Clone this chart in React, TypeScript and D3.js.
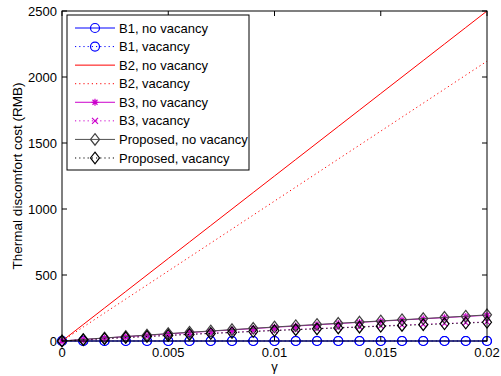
import React from "react";
import * as d3 from "d3";

const gammas = [0, 0.001, 0.002, 0.003, 0.004, 0.005, 0.006, 0.007, 0.008, 0.009, 0.01,
  0.011, 0.012, 0.013, 0.014, 0.015, 0.016, 0.017, 0.018, 0.019, 0.02];

const b1NoVacancy = [0, 0, 0, 0, 0, 0, 0, 0, 0, 0, 0, 0, 0, 0, 0, 0, 0, 0, 0, 0, 0];
const b1Vacancy = [0, 0, 0, 0, 0, 0, 0, 0, 0, 0, 0, 0, 0, 0, 0, 0, 0, 0, 0, 0, 0];
const b2NoVacancy = [0, 125, 250, 375, 500, 625, 750, 875, 1000, 1125, 1250,
  1375, 1500, 1625, 1750, 1875, 2000, 2125, 2250, 2375, 2500];
const b2Vacancy = [0, 106, 212, 318, 424, 530, 636, 742, 848, 954, 1060,
  1166, 1272, 1378, 1484, 1590, 1696, 1802, 1908, 2014, 2120];
const b3NoVacancy = [0, 11, 22, 33, 43, 54, 64, 74, 84, 94, 104,
  113, 123, 132, 141, 150, 159, 168, 177, 186, 195];
const b3Vacancy = [0, 9, 18, 27, 35, 43, 51, 59, 66, 74, 81,
  88, 95, 102, 108, 115, 121, 127, 133, 139, 145];
const propNoVacancy = [0, 12, 23, 34, 45, 56, 66, 76, 86, 96, 106,
  116, 125, 134, 143, 152, 161, 170, 179, 188, 198];
const propVacancy = [0, 9, 17, 26, 34, 42, 50, 57, 64, 72, 79,
  86, 92, 99, 105, 112, 118, 124, 130, 136, 142];

const xTicks = [0, 0.005, 0.01, 0.015, 0.02];
const xTickLabels = ["0", "0.005", "0.01", "0.015", "0.02"];
const yTicks = [0, 500, 1000, 1500, 2000, 2500];
const yTickLabels = ["0", "500", "1000", "1500", "2000", "2500"];

type Marker = "circle" | "none" | "star" | "x" | "diamond";
interface Series {
  name: string;
  values: number[];
  color: string;
  markerColor: string;
  dashed: boolean;
  marker: Marker;
}

const seriesNames = [
  "B1, no vacancy", "B1, vacancy", "B2, no vacancy", "B2, vacancy",
  "B3, no vacancy", "B3, vacancy", "Proposed, no vacancy", "Proposed, vacancy",
];

const series: Series[] = [
  { name: seriesNames[0], values: b1NoVacancy, color: "#0000ff", markerColor: "#0000ff", dashed: false, marker: "circle" },
  { name: seriesNames[1], values: b1Vacancy, color: "#0000ff", markerColor: "#0000ff", dashed: true, marker: "circle" },
  { name: seriesNames[2], values: b2NoVacancy, color: "#ff0000", markerColor: "#ff0000", dashed: false, marker: "none" },
  { name: seriesNames[3], values: b2Vacancy, color: "#ff0000", markerColor: "#ff0000", dashed: true, marker: "none" },
  { name: seriesNames[4], values: b3NoVacancy, color: "#cc00cc", markerColor: "#cc00cc", dashed: false, marker: "star" },
  { name: seriesNames[5], values: b3Vacancy, color: "#cc00cc", markerColor: "#cc00cc", dashed: true, marker: "x" },
  { name: seriesNames[6], values: propNoVacancy, color: "#505050", markerColor: "#404040", dashed: false, marker: "diamond" },
  { name: seriesNames[7], values: propVacancy, color: "#000000", markerColor: "#000000", dashed: true, marker: "diamond" },
];

const W = 501;
const H = 376;
const left = 62;
const right = 487;
const top = 11;
const bottom = 341;
const FONT = "'Liberation Sans', Arial, Helvetica, sans-serif";

function MarkerShape({ kind, x, y, color }: { kind: Marker; x: number; y: number; color: string }) {
  if (kind === "circle") {
    return <circle cx={x} cy={y} r={4.5} fill="none" stroke={color} strokeWidth={1.2} />;
  }
  if (kind === "diamond") {
    const w = 4.5, h = 5.8;
    return (
      <path d={`M${x},${y - h}L${x + w},${y}L${x},${y + h}L${x - w},${y}Z`}
        fill="none" stroke={color} strokeWidth={1.2} />
    );
  }
  if (kind === "x") {
    const s = 3;
    return (
      <path d={`M${x - s},${y - s}L${x + s},${y + s}M${x - s},${y + s}L${x + s},${y - s}`}
        stroke={color} strokeWidth={1.2} />
    );
  }
  if (kind === "star") {
    const s = 3.5, d = 2.5;
    return (
      <path d={`M${x - s},${y}L${x + s},${y}M${x},${y - s}L${x},${y + s}M${x - d},${y - d}L${x + d},${y + d}M${x - d},${y + d}L${x + d},${y - d}`}
        stroke={color} strokeWidth={1.2} />
    );
  }
  return null;
}

export default function App() {
  const xScale = d3.scaleLinear().domain([0, 0.02]).range([left, right]);
  const yScale = d3.scaleLinear().domain([0, 2500]).range([bottom, top]);
  const line = d3.line<number>()
    .x((_, i) => xScale(gammas[i]))
    .y((v) => yScale(v));

  const tickLen = 5;
  const legendX = 67;
  const legendY = 15;
  const legendW = 182;
  const legendH = 155;
  const rowStart = 28;
  const rowStep = 18.57;

  return (
    <svg width={W} height={H} style={{ position: "absolute", left: 0, top: 0, background: "#fff" }}
      fontFamily={FONT}>
      <rect x={0} y={0} width={W} height={H} fill="#fff" />
      <defs>
        <clipPath id="plotClip">
          <rect x={left - 8} y={top - 8} width={right - left + 16} height={bottom - top + 16} />
        </clipPath>
      </defs>

      {/* data */}
      <g clipPath="url(#plotClip)">
        {series.map((s) => (
          <g key={s.name}>
            <path d={line(s.values) || ""} fill="none" stroke={s.color} strokeWidth={1}
              strokeDasharray={s.dashed ? "1.2,3" : undefined} />
            {s.values.map((v, i) => (
              <MarkerShape key={i} kind={s.marker} x={xScale(gammas[i])} y={yScale(v)} color={s.markerColor} />
            ))}
          </g>
        ))}
      </g>

      {/* axes box */}
      <rect x={left} y={top} width={right - left} height={bottom - top} fill="none" stroke="#000" strokeWidth={1} />
      {xTicks.map((t, i) => (
        <g key={"xt" + i}>
          <line x1={xScale(t)} x2={xScale(t)} y1={bottom} y2={bottom - tickLen} stroke="#000" />
          <line x1={xScale(t)} x2={xScale(t)} y1={top} y2={top + tickLen} stroke="#000" />
          <text x={xScale(t)} y={357} textAnchor="middle" fontSize={13} fill="#000">{xTickLabels[i]}</text>
        </g>
      ))}
      {yTicks.map((t, i) => (
        <g key={"yt" + i}>
          <line x1={left} x2={left + tickLen} y1={yScale(t)} y2={yScale(t)} stroke="#000" />
          <line x1={right} x2={right - tickLen} y1={yScale(t)} y2={yScale(t)} stroke="#000" />
          <text x={57} y={yScale(t)} dy="0.35em" textAnchor="end" fontSize={13} fill="#000">{yTickLabels[i]}</text>
        </g>
      ))}

      <text x={(left + right) / 2} y={371} textAnchor="middle" fontSize={13} fill="#000">γ</text>
      <text transform={`translate(22,${(top + bottom) / 2}) rotate(-90)`} textAnchor="middle" fontSize={13.5} fill="#000">
        Thermal discomfort cost (RMB)
      </text>

      {/* legend */}
      <rect x={legendX} y={legendY} width={legendW} height={legendH} fill="#fff" stroke="#000" strokeWidth={1} />
      {series.map((s, i) => {
        const y = rowStart + i * rowStep;
        return (
          <g key={"lg" + i}>
            <line x1={75} x2={115} y1={y} y2={y} stroke={s.color} strokeWidth={1}
              strokeDasharray={s.dashed ? "1.2,3" : undefined} />
            <MarkerShape kind={s.marker} x={95} y={y} color={s.markerColor} />
            <text x={119} y={y} dy="0.35em" fontSize={13} fill="#000">{s.name}</text>
          </g>
        );
      })}
    </svg>
  );
}
